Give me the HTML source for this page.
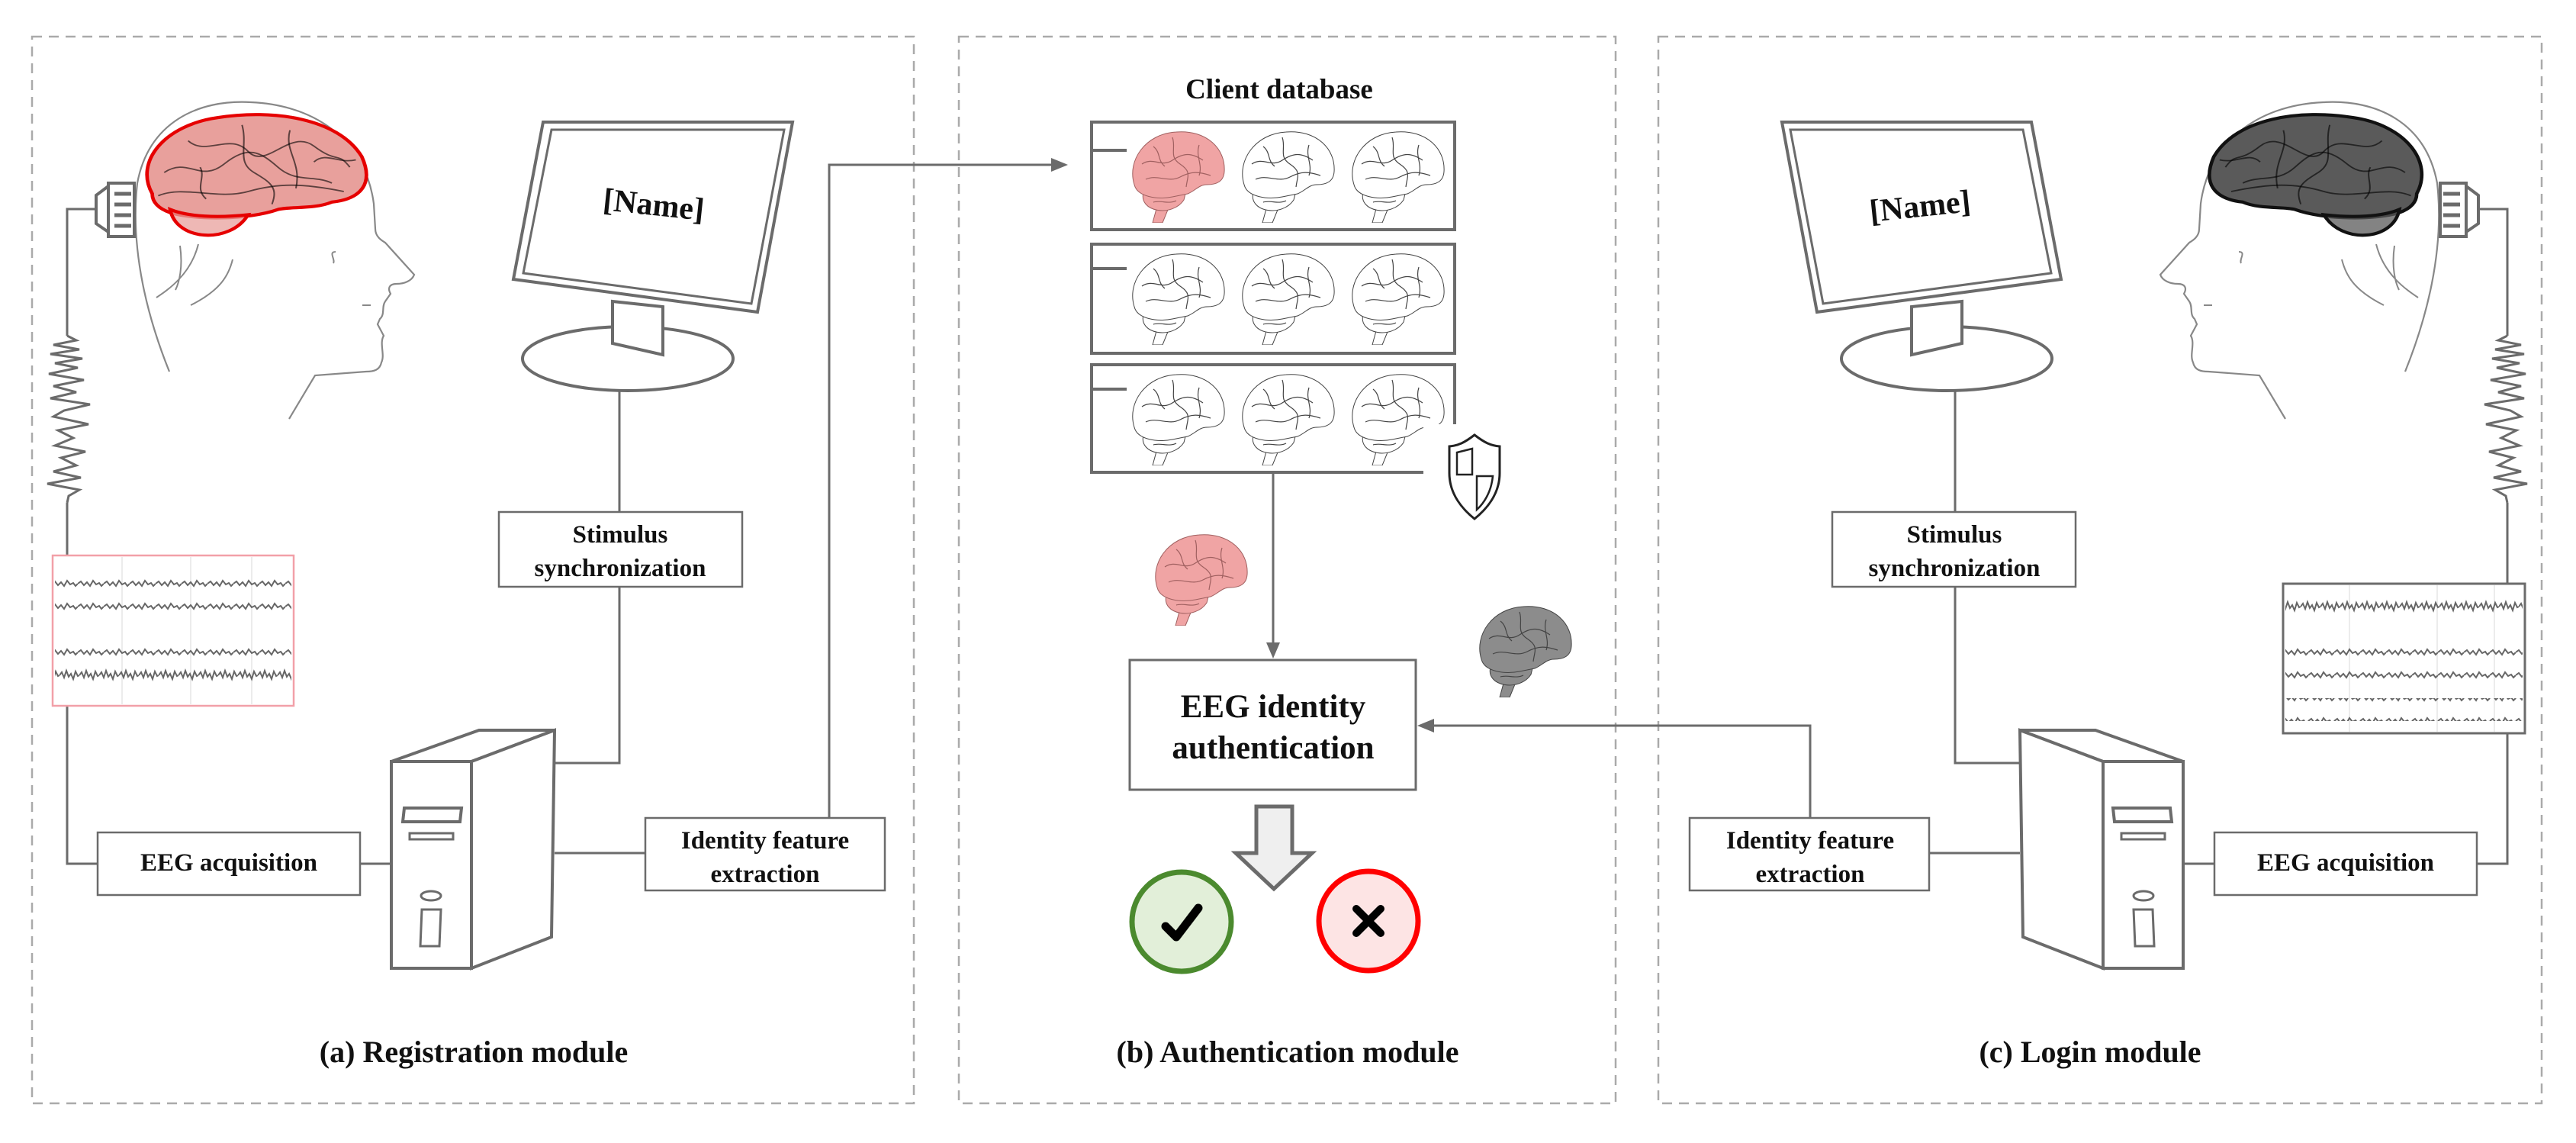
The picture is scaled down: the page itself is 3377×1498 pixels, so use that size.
<!DOCTYPE html>
<html><head><meta charset="utf-8"><style>
html,body{margin:0;padding:0;background:#fff}
svg{display:block}
text{font-family:"Liberation Serif",serif;font-weight:bold;fill:#111}
</style></head><body>
<svg width="3377" height="1498" viewBox="0 0 3377 1498" xmlns="http://www.w3.org/2000/svg">
<defs>
  <symbol id="bigbrain" viewBox="0 0 200 130" preserveAspectRatio="none">
    <path d="M15,80 C0,50 25,15 70,8 C115,0 170,8 190,45 C200,70 190,85 165,88 C150,95 130,92 120,95 C95,105 50,105 30,98 C20,94 15,88 15,80 Z"/>
    <path d="M30,95 C35,125 80,128 95,100 C70,103 45,102 30,95 Z" fill-opacity="0.75"/>
    <g fill="none" stroke-width="1.3" vector-effect="non-scaling-stroke" stroke-opacity="0.6" stroke="#000">
      <path d="M25,60 C45,45 55,70 75,52 S105,40 120,55 S150,62 165,70"/>
      <path d="M45,30 C60,45 80,22 95,40 S130,18 150,35 S170,40 180,55"/>
      <path d="M20,82 C40,72 70,86 95,78 S140,70 175,78"/>
      <path d="M90,15 C95,35 85,50 100,60 S120,75 115,90"/>
      <path d="M130,20 C125,40 140,50 135,75"/>
      <path d="M55,55 C60,65 50,75 60,85"/>
      <path d="M150,50 C160,40 170,52 185,48"/>
    </g>
  </symbol>
  <symbol id="sbrain" viewBox="0 0 130 122" preserveAspectRatio="none">
    <path d="M40,100 L34,122 L47,122 L56,100 Z"/>
    <path d="M22,82 C15,108 60,115 75,92 L78,80 Z"/>
    <path d="M10,72 C0,40 25,5 65,3 C105,0 130,25 128,55 C127,68 118,72 105,72 C95,72 90,80 80,84 L60,88 C40,92 14,88 10,72 Z"/>
    <g fill="none" stroke-width="1.2" vector-effect="non-scaling-stroke">
      <path d="M20,45 C35,35 45,50 60,40 S85,30 100,40"/>
      <path d="M25,65 C40,58 55,70 70,62 S95,55 110,60"/>
      <path d="M60,10 C65,25 55,35 70,45 S80,60 78,75"/>
      <path d="M95,20 C90,35 100,45 95,60"/>
      <path d="M35,22 C45,30 40,40 50,48"/>
      <path d="M35,95 C45,92 55,98 65,93"/>
    </g>
  </symbol>
  <pattern id="eegA" width="26" height="30" patternUnits="userSpaceOnUse">
    <polyline points="0,15 3,11 6,18 9,9 12,17 15,13 18,20 21,10 24,16 26,15" fill="none" stroke="#666" stroke-width="2"/>
  </pattern>
  <pattern id="eegB" width="34" height="30" patternUnits="userSpaceOnUse">
    <polyline points="0,15 4,12 8,17 12,13 16,18 20,11 24,16 28,14 31,18 34,15" fill="none" stroke="#666" stroke-width="2"/>
  </pattern>
  <g id="side" stroke="#6b6b6b" stroke-width="3" fill="none">
    <polyline points="126,274 88,274 88,440"/>
    <polyline points="88,440 100,446 70,452 104,458 66,464 108,470 72,476 102,482 64,490 110,498 70,506 100,514 66,522 118,530 84,538 70,546 116,556 76,564 96,574 72,584 112,592 80,600 100,610 70,618 106,626 62,634 104,642 90,650 88,659"/>
    <polyline points="88,659 88,1132 128,1132"/>
    <line x1="472" y1="1132" x2="513" y2="1132"/>
    <polyline points="727,1000 812,1000 812,769"/>
    <line x1="812" y1="671" x2="812" y2="511"/>
    <line x1="727" y1="1118" x2="846" y2="1118"/>
    <path stroke="#888" stroke-width="2.2" d="M222,487 C195,420 170,330 180,240 C195,160 260,130 329,134 C420,138 480,190 490,267 L492,300 C492,310 500,315 505,318 L543,360 C540,368 530,372 520,372 C510,372 508,378 512,385 L505,395 C500,402 505,412 498,418 L495,425 L503,440 C497,450 505,465 500,475 C498,485 490,487 480,487 L413,492 L379,549"/>
    <path stroke="#888" stroke-width="2" d="M236,322 C240,350 235,370 230,380 M260,320 C250,360 220,380 205,390 M305,340 C300,360 290,380 250,400"/>
    <path stroke="#888" stroke-width="2" d="M437,345 C440,340 430,330 440,330 M486,400 L475,400"/>
    <polygon points="126,256 142,244 142,304 126,293" stroke-width="4" fill="#fff"/>
    <rect x="142" y="240" width="34" height="70" fill="#fff" stroke-width="4"/>
    <g stroke-width="5"><line x1="150" y1="254" x2="172" y2="254"/><line x1="150" y1="268" x2="172" y2="268"/><line x1="150" y1="282" x2="172" y2="282"/><line x1="150" y1="296" x2="172" y2="296"/></g>
    <ellipse cx="823" cy="470" rx="138" ry="42" fill="#fff" stroke-width="4"/>
    <polygon points="803,395 869,402 869,465 803,450" fill="#fff" stroke-width="4"/>
    <polygon points="712,160 1039,160 993,409 673,366" fill="#fff" stroke-width="4"/>
    <polygon points="723,170 1028,170 985,398 686,358" fill="#fff" stroke-width="3"/>
    <polygon points="513,998 628,957 727,957 618,998" fill="#fff" stroke-width="4"/>
    <polygon points="618,998 727,957 723,1228 618,1269" fill="#fff" stroke-width="4"/>
    <rect x="513" y="998" width="105" height="271" fill="#fff" stroke-width="4"/>
    <polygon points="530,1059 605,1059 603,1077 528,1077" stroke-width="4"/>
    <rect x="537" y="1092" width="57" height="8" stroke-width="3"/>
    <ellipse cx="565" cy="1174" rx="13" ry="6" stroke-width="3"/>
    <polygon points="553,1192 578,1192 576,1240 551,1240" stroke-width="3"/>
    <rect x="128" y="1091" width="344" height="82" fill="#fff" stroke-width="2.5"/>
    <rect x="654" y="671" width="319" height="98" fill="#fff" stroke-width="2.5"/>
    <rect x="846" y="1072" width="314" height="95" fill="#fff" stroke-width="2.5"/>
  </g>
</defs>

<g fill="none" stroke="#aaa" stroke-width="2.5" stroke-dasharray="13,9">
  <rect x="42" y="48" width="1156" height="1398"/>
  <rect x="1257" y="48" width="861" height="1398"/>
  <rect x="2174" y="48" width="1158" height="1398"/>
</g>

<use href="#side"/>
<use href="#bigbrain" x="176" y="143" width="314" height="180" fill="#e8a09c" stroke="#e60000" stroke-width="3"/>
<rect x="69" y="728" width="316" height="197" fill="#fff" stroke="#f2a0a8" stroke-width="2.5"/>
<g fill="none" stroke="#e6e6e6" stroke-width="1.5"><line x1="160" y1="730" x2="160" y2="923"/><line x1="250" y1="730" x2="250" y2="923"/><line x1="330" y1="730" x2="330" y2="923"/></g>
<rect x="72" y="748" width="310" height="30" fill="url(#eegB)"/>
<rect x="72" y="788" width="310" height="30" fill="url(#eegB)"/>
<rect x="72" y="831" width="310" height="30" fill="url(#eegB)"/>
<rect x="72" y="876" width="310" height="30" fill="url(#eegA)"/>
<g stroke="#6b6b6b" stroke-width="3" fill="none">
  <polyline points="1087,1072 1087,216 1385,216"/>
</g>
<polygon points="1400,216 1378,207 1378,225" fill="#6b6b6b"/>
<text x="857" y="282" font-size="42" text-anchor="middle" transform="rotate(6 857 268)">[Name]</text>
<text x="813" y="711" font-size="33" text-anchor="middle">Stimulus</text>
<text x="813" y="755" font-size="33" text-anchor="middle">synchronization</text>
<text x="1003" y="1112" font-size="33" text-anchor="middle">Identity feature</text>
<text x="1003" y="1156" font-size="33" text-anchor="middle">extraction</text>
<text x="300" y="1141" font-size="33" text-anchor="middle">EEG acquisition</text>
<text x="621" y="1392" font-size="40" text-anchor="middle">(a) Registration module</text>

<use href="#side" transform="translate(3375,0) scale(-1,1)"/>
<use href="#bigbrain" transform="translate(3375,0) scale(-1,1)" x="184" y="143" width="304" height="180" fill="#5a5a5a" stroke="#111" stroke-width="3"/>
<rect x="2993" y="765" width="317" height="196" fill="#fff" stroke="#6b6b6b" stroke-width="3"/>
<g fill="none" stroke="#e6e6e6" stroke-width="1.5"><line x1="3080" y1="767" x2="3080" y2="959"/><line x1="3195" y1="767" x2="3195" y2="959"/><line x1="3270" y1="767" x2="3270" y2="959"/></g>
<rect x="2996" y="778" width="311" height="30" fill="url(#eegA)"/>
<rect x="2996" y="830" width="311" height="30" fill="url(#eegB)"/>
<rect x="2996" y="873" width="311" height="30" fill="url(#eegB)"/>
<rect x="2996" y="915" width="311" height="30" fill="url(#eegB)"/>
<g stroke="#6b6b6b" stroke-width="3" fill="none">
  <polyline points="2373,1072 2373,951 1875,951"/>
</g>
<polygon points="1858,951 1880,942 1880,960" fill="#6b6b6b"/>
<text x="2517" y="284" font-size="42" text-anchor="middle" transform="rotate(-6 2517 270)">[Name]</text>
<text x="2562" y="711" font-size="33" text-anchor="middle">Stimulus</text>
<text x="2562" y="755" font-size="33" text-anchor="middle">synchronization</text>
<text x="2373" y="1112" font-size="33" text-anchor="middle">Identity feature</text>
<text x="2373" y="1156" font-size="33" text-anchor="middle">extraction</text>
<text x="3075" y="1141" font-size="33" text-anchor="middle">EEG acquisition</text>
<text x="2740" y="1392" font-size="40" text-anchor="middle">(c) Login module</text>

<text x="1677" y="129" font-size="37" text-anchor="middle">Client database</text>
<g fill="#fff" stroke="#6b6b6b" stroke-width="4">
  <rect x="1431" y="160" width="476" height="141"/>
  <rect x="1431" y="320" width="476" height="143"/>
  <rect x="1431" y="478" width="476" height="141"/>
</g>
<g stroke="#6b6b6b" stroke-width="4">
  <line x1="1433" y1="197" x2="1477" y2="197"/>
  <line x1="1433" y1="352" x2="1477" y2="352"/>
  <line x1="1433" y1="510" x2="1477" y2="510"/>
</g>
<use href="#sbrain" x="1477" y="170" width="130" height="122" fill="#f0a4a4" stroke="#a06060"/>
<use href="#sbrain" x="1621" y="170" width="130" height="122" fill="#fff" stroke="#444"/>
<use href="#sbrain" x="1765" y="170" width="130" height="122" fill="#fff" stroke="#444"/>
<use href="#sbrain" x="1477" y="330" width="130" height="122" fill="#fff" stroke="#444"/>
<use href="#sbrain" x="1621" y="330" width="130" height="122" fill="#fff" stroke="#444"/>
<use href="#sbrain" x="1765" y="330" width="130" height="122" fill="#fff" stroke="#444"/>
<use href="#sbrain" x="1477" y="488" width="130" height="122" fill="#fff" stroke="#444"/>
<use href="#sbrain" x="1621" y="488" width="130" height="122" fill="#fff" stroke="#444"/>
<use href="#sbrain" x="1765" y="488" width="130" height="122" fill="#fff" stroke="#444"/>
<rect x="1866" y="556" width="124" height="134" fill="#fff"/>
<path d="M1933,570 C1920,580 1912,584 1900,585 L1900,620 C1900,648 1918,668 1933,680 C1948,668 1966,648 1966,620 L1966,585 C1954,584 1946,580 1933,570 Z" fill="#fff" stroke="#222" stroke-width="3"/>
<path d="M1910,593 L1930,588 L1930,622 L1910,622 Z M1936,624 L1957,624 C1955,645 1945,660 1936,668 Z" fill="#fff" stroke="#222" stroke-width="2.5"/>
<line x1="1669" y1="619" x2="1669" y2="845" stroke="#6b6b6b" stroke-width="3"/>
<polygon points="1669,863 1660,842 1678,842" fill="#6b6b6b"/>
<use href="#sbrain" x="1507" y="698" width="130" height="122" fill="#f0a4a4" stroke="#a06060"/>
<use href="#sbrain" x="1932" y="792" width="130" height="122" fill="#8c8c8c" stroke="#444"/>
<rect x="1481" y="865" width="375" height="170" fill="#fff" stroke="#6b6b6b" stroke-width="3"/>
<text x="1669" y="940" font-size="43" text-anchor="middle">EEG identity</text>
<text x="1669" y="994" font-size="43" text-anchor="middle">authentication</text>
<polygon points="1647,1057 1694,1057 1694,1118 1720,1118 1670,1165 1620,1118 1647,1118" fill="#efefef" stroke="#6b6b6b" stroke-width="5" stroke-linejoin="miter"/>
<circle cx="1549" cy="1208" r="65" fill="#e2efd9" stroke="#4b8a2e" stroke-width="7"/>
<path d="M1528,1214 L1542,1228 L1571,1190" fill="none" stroke="#000" stroke-width="11" stroke-linecap="round" stroke-linejoin="round"/>
<circle cx="1794" cy="1207" r="65" fill="#fde4e4" stroke="#ff0000" stroke-width="7"/>
<path d="M1778,1191 L1810,1223 M1810,1191 L1778,1223" stroke="#000" stroke-width="10" stroke-linecap="round"/>
<text x="1688" y="1392" font-size="40" text-anchor="middle">(b) Authentication module</text>
</svg>
</body></html>
